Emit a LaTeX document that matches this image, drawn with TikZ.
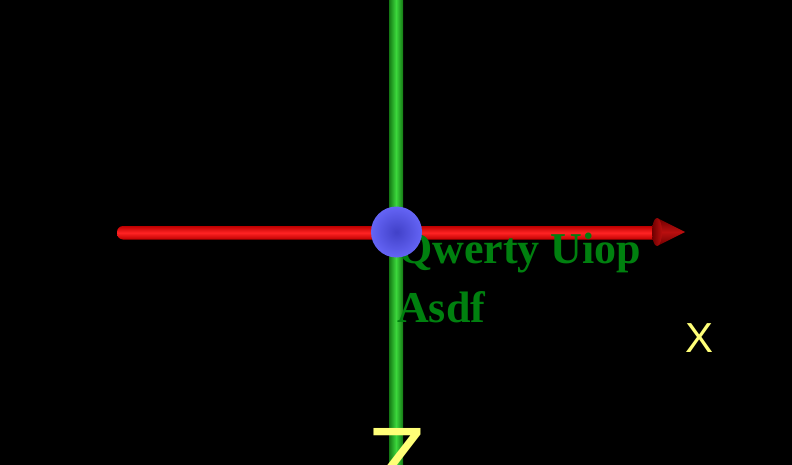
\documentclass[tikz,border=0pt]{standalone}
\usepackage{fontspec}
\setmainfont{Liberation Serif}
\newfontfamily\labelsans{Liberation Sans}
\definecolor{rodgreenmid}{RGB}{60,215,60}
\definecolor{rodgreenedge}{RGB}{20,120,20}
\definecolor{rodredmid}{RGB}{255,35,35}
\definecolor{rodrededge}{RGB}{190,0,0}
\definecolor{conedark}{RGB}{110,0,0}
\definecolor{conemid}{RGB}{185,15,15}
\definecolor{ballin}{RGB}{65,65,200}
\definecolor{ballout}{RGB}{100,100,245}
\definecolor{txtgreen}{RGB}{0,128,15}
\definecolor{axyellow}{RGB}{255,255,120}
\tikzset{
  greentext/.style={anchor=base west, inner sep=0pt, text=txtgreen, font=\fontsize{44}{44}\selectfont\bfseries},
  axislabel/.style={inner sep=0pt, text=axyellow, font=\labelsans}
}
\begin{document}
\begin{tikzpicture}[x=1pt,y=-1pt]
\useasboundingbox (0,0) rectangle (792,465);
\fill[black] (0,0) rectangle (792,465);
% red rod
\shade[top color=rodrededge, bottom color=rodrededge, middle color=rodredmid, rounded corners=6pt]
  (117,226) rectangle (660,239.5);
% cone
\shade[top color=conedark, bottom color=conedark, middle color=conemid]
  (657,218) -- (685,232) -- (657,246) -- cycle;
\shade[left color=conedark, right color=conemid] (657,232) ellipse [x radius=5, y radius=14];
% green rod
\shade[left color=rodgreenedge, right color=rodgreenedge, middle color=rodgreenmid]
  (389,0) rectangle (403,465);
% texts
\node[greentext] (t1) at (398,263) {Qwerty Uiop};
\node[greentext] (t2) at (397,322) {Asdf};
\node[axislabel, font=\labelsans\fontsize{42}{42}\selectfont, anchor=north west] (xl) at (685,323) {X};
\node[axislabel, font=\labelsans\fontsize{96}{96}\selectfont, anchor=north west] (zl) at (367,428) {Z};
% ball
\shade[inner color=ballin, outer color=ballout] (396.5,232) circle (25.5);
\end{tikzpicture}
\end{document}
